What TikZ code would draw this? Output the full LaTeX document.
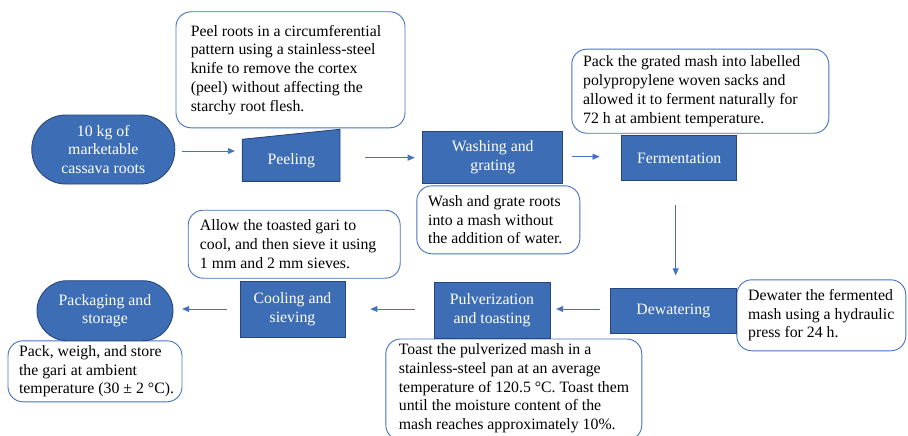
\documentclass[tikz,border=0pt]{standalone}
\usepackage{fontspec}
\setmainfont{Liberation Serif}
\usetikzlibrary{arrows.meta}
\definecolor{boxblue}{RGB}{61,110,181}
\definecolor{boxedge}{RGB}{40,70,125}
\definecolor{lineblue}{RGB}{68,114,196}
\begin{document}
\begin{tikzpicture}[x=1pt,y=-1pt,
  txt/.style={font={\fontsize{15.8}{18.7}\selectfont}},
  proc/.style={txt, draw=boxedge, line width=0.9pt, fill=boxblue, text=white, align=center, inner sep=0pt},
  term/.style={proc},
  procshape/.style={draw=boxedge, line width=0.9pt, fill=boxblue},
  note/.style={draw=lineblue, line width=0.9pt, fill=white, rounded corners=15pt, inner sep=0pt},
  notetext/.style={txt, align=left, anchor=west, inner sep=0pt},
  arr/.style={draw=lineblue, line width=0.8pt, -{Triangle[length=7pt,width=6pt]}}]
\useasboundingbox (0,0) rectangle (908,436);
\clip (0,0) rectangle (908,436);

% callouts
\node[note, minimum width=229pt, minimum height=116pt] (cpeel) at (290.5,69.8) {};
\node[notetext] (cpeel-t) at ([xshift=15pt]cpeel.west)
  {Peel roots in a circumferential\\pattern using a stainless-steel\\knife to remove the cortex\\(peel) without affecting the\\starchy root flesh.};
\node[note, minimum width=163pt, minimum height=68pt] (cwash) at (498.3,219.8) {};
\node[notetext] (cwash-t) at ([xshift=11.6pt]cwash.west)
  {Wash and grate roots\\into a mash without\\the addition of water.};
\node[note, minimum width=257pt, minimum height=84pt] (cferm) at (700.3,91.2) {};
\node[notetext] (cferm-t) at ([xshift=11.6pt]cferm.west)
  {Pack the grated mash into labelled\\polypropylene woven sacks and\\allowed it to ferment naturally for\\72 h at ambient temperature.};
\node[note, minimum width=169pt, minimum height=71pt] (cdew) at (821.3,315.3) {};
\node[notetext] (cdew-t) at ([xshift=11.6pt]cdew.west)
  {Dewater the fermented\\mash using a hydraulic\\press for 24 h.};
\node[note, minimum width=256pt, minimum height=101pt] (ctoast) at (513.8,389.5) {};
\node[notetext] (ctoast-t) at ([xshift=13.3pt,yshift=1pt]ctoast.west)
  {Toast the pulverized mash in a\\stainless-steel pan at an average\\temperature of 120.5 °C. Toast them\\until the moisture content of the\\mash reaches approximately 10\%.};
\node[note, minimum width=212pt, minimum height=68pt] (ccool) at (294.2,244.2) {};
\node[notetext] (ccool-t) at ([xshift=12pt]ccool.west)
  {Allow the toasted gari to\\cool, and then sieve it using\\1 mm and 2 mm sieves.};
\node[note, minimum width=174pt, minimum height=61pt] (cstore) at (95,371.3) {};
\node[notetext] (cstore-t) at ([xshift=11.3pt]cstore.west)
  {Pack, weigh, and store\\the gari at ambient\\temperature (30 ± 2 °C).};

% process shapes
\node[term, rounded corners=34pt, minimum width=143pt, minimum height=69pt] (start) at (103.3,149.5)
  {10 kg of\\marketable\\cassava roots};
\draw[procshape] (242.3,139.3) -- (340,129.3) -- (340,181.3) -- (242.3,181.3) -- cycle;
\node[txt, text=white, minimum width=97.7pt, minimum height=42pt, inner sep=0pt] (peel) at (291.2,161) {Peeling};
\node[proc, minimum width=140pt, minimum height=52pt] (wash) at (492.8,157) {Washing and\\grating};
\node[proc, minimum width=115pt, minimum height=45.7pt] (ferm) at (679.2,158) {Fermentation};
\node[proc, minimum width=126.7pt, minimum height=45pt] (dew) at (673.3,310.6) {Dewatering};
\node[proc, minimum width=116pt, minimum height=56pt] (pulv) at (492,310) {Pulverization\\and toasting};
\node[proc, minimum width=105pt, minimum height=56pt] (cool) at (292.5,309) {Cooling and\\sieving};
\node[term, rounded corners=30pt, minimum width=136pt, minimum height=60pt] (pack) at (105,310.7) {Packaging and\\storage};

% connectors
\draw[arr, shorten <=6.7pt, shorten >=7.3pt] (start.east |- 0,151) -- (peel.west |- 0,151);
\draw[arr, shorten <=25pt, shorten >=7.7pt] (peel.east |- 0,157.7) -- (wash.west |- 0,157.7);
\draw[arr, shorten <=9pt, shorten >=21.7pt] (wash.east |- 0,156.7) -- (ferm.west |- 0,156.7);
\draw[arr, shorten <=23.6pt, shorten >=12.3pt] (ferm.south -| 675.7,0) -- (dew.north -| 675.7,0);
\draw[arr, shorten <=9.3pt, shorten >=5.7pt] (dew.west |- 0,309) -- (pulv.east |- 0,309);
\draw[arr, shorten <=18.3pt, shorten >=25pt] (pulv.west |- 0,309) -- (cool.east |- 0,309);
\draw[arr, shorten <=12.3pt, shorten >=8.7pt] (cool.west |- 0,309) -- (pack.east |- 0,309);
\end{tikzpicture}
\end{document}
